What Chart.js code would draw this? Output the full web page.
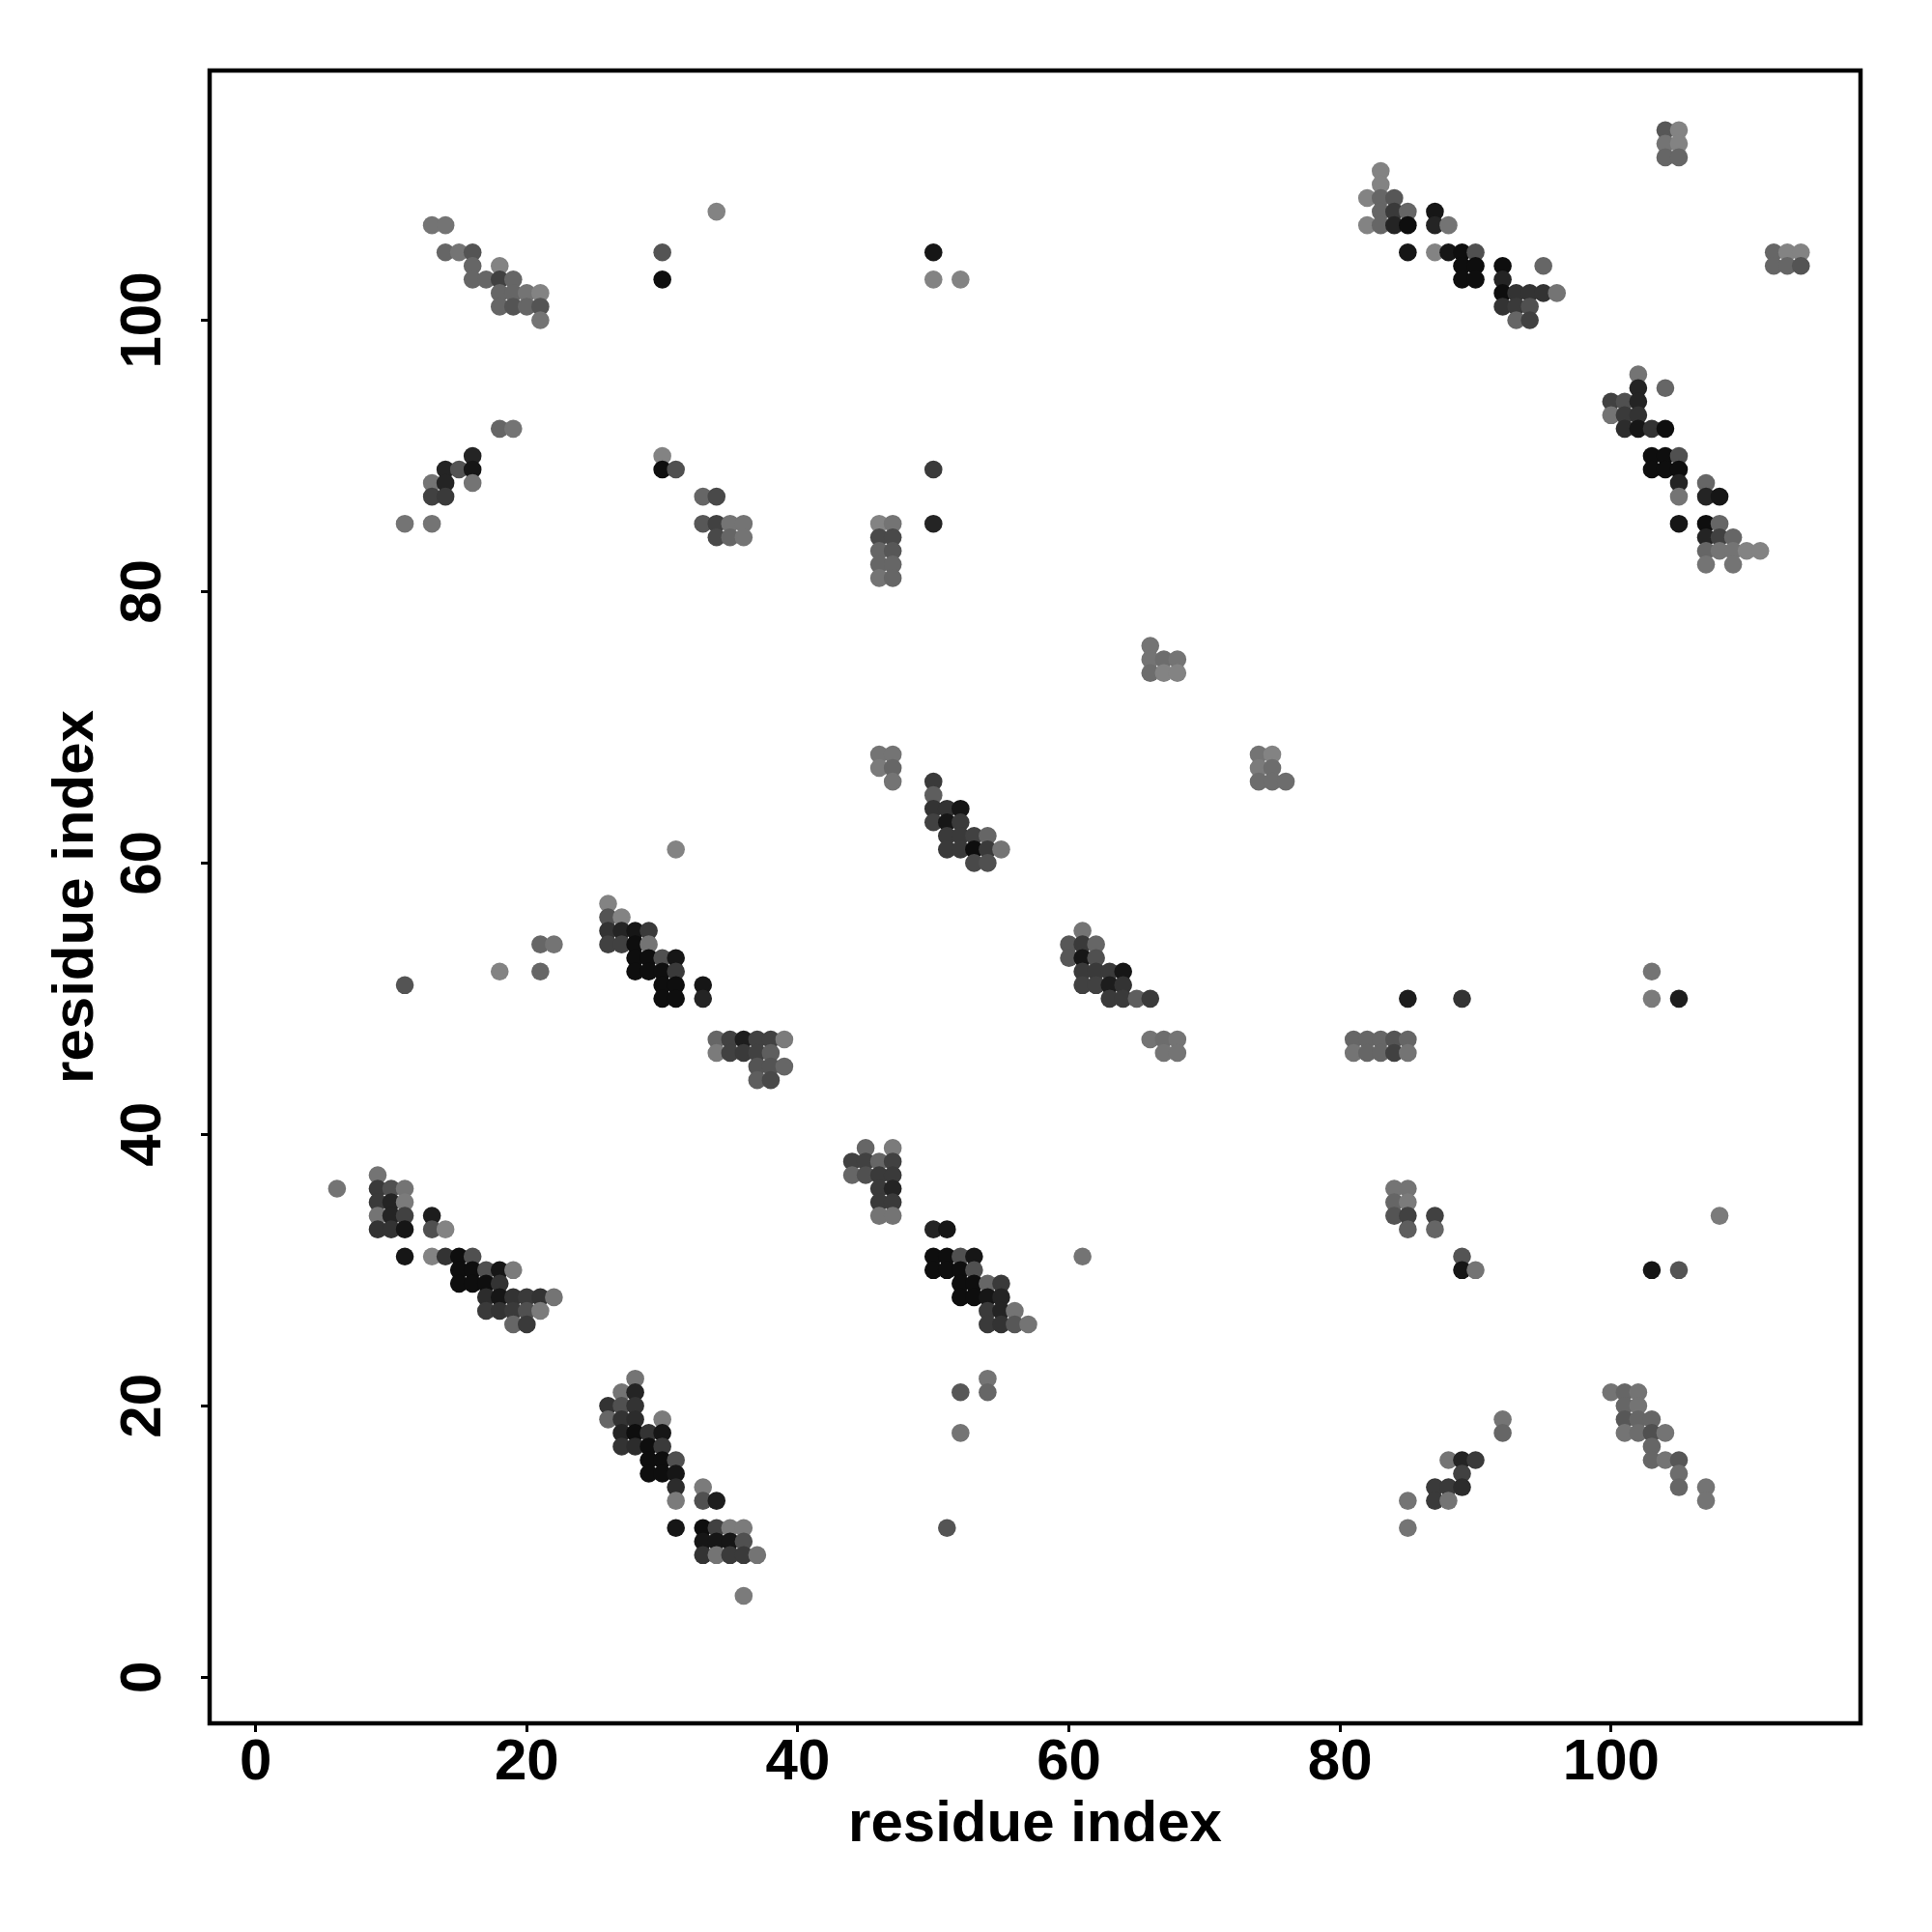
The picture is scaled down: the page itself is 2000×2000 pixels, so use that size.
<!DOCTYPE html>
<html>
<head>
<meta charset="utf-8">
<script src="https://cdn.jsdelivr.net/npm/chart.js@4/dist/chart.umd.min.js"></script>
<style>
  html, body { margin: 0; padding: 0; background: #fff; }
  canvas { display: block; }
</style>
</head>
<body>
<canvas id="contactMap" width="2000" height="2000"></canvas>
<script>
// contacts: [residue i, residue j, probability]
const northWest = [
    [13,107,.2],[14,107,.2],[14,105,.3],[15,105,.2],[16,105,.42],[16,104,.3],[18,104,.1],
    [16,103,.3],[17,103,.3],[18,103,.55],[19,103,.3],[18,102,.3],[19,102,.3],[20,102,.2],
    [21,102,.1],[18,101,.3],[19,101,.42],[20,101,.3],[21,101,.42],[21,100,.2],
    [18,92,.3],[19,92,.2],[16,90,.75],[14,89,.75],[15,89,.42],[16,89,.85],[13,88,.2],
    [14,88,.75],[16,88,.2],[13,87,.55],[14,87,.6],[11,85,.2],[13,85,.2]
];
const northMiddle = [
    [34,108,.1],[30,105,.42],[30,103,.9],[50,105,.85],[50,103,.1],[52,103,.1],
    [30,90,.1],[30,89,.9],[31,89,.45],[50,89,.6],[33,87,.3],[34,87,.5],[33,85,.4],
    [34,85,.55],[35,85,.2],[36,85,.2],[34,84,.5],[35,84,.3],[36,84,.2],[50,85,.75],
    [46,85,.1],[47,85,.2],[46,84,.5],[47,84,.5],[46,83,.3],[47,83,.4],[46,82,.3],
    [47,82,.3],[46,81,.2],[47,81,.3]
];
const northEast = [
    [104,114,.4],[105,114,.1],[104,113,.2],[105,113,.1],[104,112,.3],[105,112,.3],
    [112,105,.3],[113,105,.1],[114,105,.1],[112,104,.3],[113,104,.3],[114,104,.42],
    [83,111,.1],[83,110,.1],[82,109,.1],[83,109,.3],[84,109,.4],[83,108,.3],[84,108,.6],
    [85,108,.3],[87,108,.85],[82,107,.1],[83,107,.3],[84,107,.75],[85,107,.9],[87,107,.75],
    [88,107,.2],[85,105,.85],[87,105,.1],[88,105,.85],[89,105,.9],[90,105,.45],[89,104,.9],
    [90,104,.9],[89,103,.9],[90,103,.9],[92,104,.9],[95,104,.3],[92,103,.75],[92,102,.9],
    [93,102,.65],[94,102,.65],[95,102,.65],[96,102,.2],[92,101,.65],[93,101,.6],[94,101,.45],
    [93,100,.3],[94,100,.55],
    [102,96,.2],[102,95,.75],[104,95,.3],[100,94,.55],[101,94,.45],[102,94,.75],[100,93,.2],
    [101,93,.6],[102,93,.65],[101,92,.7],[102,92,.85],[103,92,.65],[104,92,.9],[103,90,.9],
    [104,90,.9],[105,90,.45],[103,89,.9],[104,89,.9],[105,89,.9],[105,88,.75],[105,87,.2],
    [107,88,.3],[107,87,.75],[108,87,.85],[105,85,.85],[107,85,.9],[108,85,.3],[107,84,.75],
    [108,84,.55],[109,84,.3],[107,83,.3],[108,83,.2],[109,83,.2],[110,83,.1],[111,83,.1],
    [107,82,.2],[109,82,.2]
];
const centre = [
    [66,76,.2],[66,75,.2],[67,75,.25],[68,75,.2],[66,74,.25],[67,74,.1],[68,74,.1],
    [46,68,.2],[47,68,.2],[46,67,.15],[47,67,.3],[47,66,.2],
    [74,68,.2],[75,68,.1],[74,67,.15],[75,67,.25],[74,66,.25],[75,66,.25],[76,66,.25],
    [50,66,.6],[50,65,.35],[50,64,.65],[51,64,.65],[52,64,.85],[50,63,.55],[51,63,.85],
    [52,63,.6],[51,62,.6],[52,62,.6],[53,62,.55],[54,62,.3],[51,61,.6],[52,61,.6],
    [53,61,.9],[54,61,.6],[55,61,.2],[53,60,.5],[54,60,.45],
    [61,55,.2],[60,54,.4],[61,54,.6],[62,54,.3],[60,53,.4],[61,53,.85],[62,53,.45],
    [61,52,.6],[62,52,.6],[63,52,.6],[64,52,.85],[61,51,.55],[62,51,.55],[63,51,.8],
    [64,51,.65],[63,50,.6],[64,50,.6],[65,50,.35],[66,50,.6],
    [66,47,.2],[67,47,.25],[68,47,.2],[67,46,.2],[68,46,.2]
];
const westMiddle = [
    [31,61,.1],[26,57,.1],[26,56,.42],[27,56,.1],[26,55,.65],[27,55,.75],[28,55,.85],
    [29,55,.6],[26,54,.55],[27,54,.55],[28,54,.9],[29,54,.2],[28,53,.9],[29,53,.9],
    [30,53,.45],[31,53,.85],[28,52,.9],[29,52,.9],[30,52,.9],[31,52,.6],[30,51,.9],
    [31,51,.9],[33,51,.85],[30,50,.9],[31,50,.9],[33,50,.75],
    [21,54,.3],[22,54,.2],[18,52,.1],[21,52,.3],[11,51,.42],
    [34,47,.3],[35,47,.55],[36,47,.8],[37,47,.55],[38,47,.55],[39,47,.15],[34,46,.15],
    [35,46,.55],[36,46,.6],[37,46,.55],[38,46,.35],[37,45,.42],[38,45,.42],[39,45,.3],
    [37,44,.35],[38,44,.5]
];
const eastMiddle = [
    [103,52,.2],[103,50,.15],[105,50,.8],[85,50,.8],[89,50,.65],
    [81,47,.3],[82,47,.3],[83,47,.3],[84,47,.42],[85,47,.3],
    [81,46,.2],[82,46,.3],[83,46,.3],[84,46,.55],[85,46,.2]
];
const southWest = [
    [6,36,.2],[9,37,.2],[9,36,.6],[10,36,.45],[11,36,.2],[9,35,.6],[10,35,.75],[11,35,.15],
    [9,34,.2],[10,34,.75],[11,34,.55],[13,34,.8],[9,33,.65],[10,33,.65],[11,33,.85],
    [13,33,.45],[14,33,.1],[11,31,.85],[13,31,.1],[14,31,.65],[15,31,.9],[16,31,.45],
    [15,30,.9],[16,30,.9],[17,30,.45],[18,30,.85],[19,30,.15],[15,29,.9],[16,29,.9],
    [17,29,.9],[18,29,.65],[17,28,.7],[18,28,.85],[19,28,.65],[20,28,.6],[21,28,.65],
    [22,28,.2],[17,27,.6],[18,27,.65],[19,27,.6],[20,27,.45],[21,27,.15],[19,26,.3],[20,26,.6]
];
const southMiddle = [
    [45,39,.3],[47,39,.15],[44,38,.55],[45,38,.55],[46,38,.3],[47,38,.55],[44,37,.3],
    [45,37,.45],[46,37,.6],[47,37,.6],[46,36,.6],[47,36,.75],[46,35,.6],[47,35,.6],
    [46,34,.2],[47,34,.2],[50,33,.75],[51,33,.85],[50,31,.9],[51,31,.9],[52,31,.45],
    [53,31,.85],[50,30,.9],[51,30,.9],[52,30,.9],[53,30,.45],[52,29,.9],[53,29,.9],
    [54,29,.3],[55,29,.6],[52,28,.9],[53,28,.9],[54,28,.85],[55,28,.75],[54,27,.6],
    [55,27,.75],[56,27,.2],[54,26,.6],[55,26,.65],[56,26,.4],[57,26,.2],[61,31,.2],
    [28,22,.2],[27,21,.2],[28,21,.75],[26,20,.65],[27,20,.45],[28,20,.65],[26,19,.3],
    [27,19,.65],[28,19,.7],[30,19,.15],[27,18,.75],[28,18,.9],[29,18,.65],[30,18,.85],
    [27,17,.65],[28,17,.7],[29,17,.9],[30,17,.6],[29,16,.9],[30,16,.9],[31,16,.45],
    [29,15,.9],[30,15,.9],[31,15,.85],[31,14,.7],[31,13,.15],[33,14,.15],[33,13,.45],
    [34,13,.8],[31,11,.85],[33,11,.9],[34,11,.55],[35,11,.15],[36,11,.15],[33,10,.85],
    [34,10,.85],[35,10,.85],[36,10,.45],[33,9,.65],[34,9,.2],[35,9,.6],[36,9,.6],
    [37,9,.2],[36,6,.15],[52,21,.4],[54,22,.2],[54,21,.3],[52,18,.2],[51,11,.42]
];
const southEast = [
    [84,36,.2],[85,36,.2],[84,35,.3],[85,35,.15],[84,34,.42],[85,34,.55],[87,34,.55],
    [85,33,.35],[87,33,.3],[89,31,.42],[89,30,.85],[90,30,.2],[103,30,.85],[105,30,.42],
    [108,34,.15],[92,19,.2],[92,18,.3],[88,16,.2],[89,16,.75],[90,16,.6],[89,15,.55],
    [87,14,.6],[88,14,.6],[89,14,.7],[85,13,.2],[87,13,.6],[88,13,.2],[85,11,.2],
    [100,21,.2],[101,21,.3],[102,21,.2],[101,20,.3],[102,20,.2],[101,19,.4],[102,19,.3],
    [103,19,.3],[101,18,.2],[102,18,.25],[103,18,.45],[104,18,.2],[103,17,.3],[103,16,.3],
    [104,16,.2],[105,16,.4],[105,15,.25],[105,14,.3],[107,14,.2],[107,13,.2]
];

const tickValues = [0, 20, 40, 60, 80, 100];
const axisTitle = 'residue index';

// darker grey = more probable contact
function grayFor(p) {
    const g = Math.round(145 * (1 - p));
    return `rgb(${g},${g},${g})`;
}

const points = [].concat(northWest, northMiddle, northEast, centre, westMiddle,
        eastMiddle, southWest, southMiddle, southEast)
    .map(c => ({ x: c[0], y: c[1], p: c[2] }));

const tickFont = { family: 'Liberation Sans', size: 60, weight: 'bold', lineHeight: 1 };
const titleFont = { family: 'Liberation Sans', size: 60, weight: 'bold', lineHeight: 1.2 };

// R-style box around the plot region
const boxPlugin = {
    id: 'box',
    afterDraw(chart) {
        const { ctx, chartArea: a } = chart;
        ctx.save();
        ctx.strokeStyle = '#000';
        ctx.lineWidth = 4.5;
        ctx.strokeRect(a.left, a.top, a.right - a.left, a.bottom - a.top);
        ctx.restore();
    }
};

const tickGrid = {
    display: true, drawOnChartArea: false, drawTicks: true,
    tickLength: 9, tickWidth: 3, tickColor: '#000'
};

new Chart(document.getElementById('contactMap'), {
    type: 'scatter',
    data: {
        datasets: [{
            data: points,
            pointRadius: 9.3,
            pointHoverRadius: 9.3,
            borderWidth: 0,
            backgroundColor: ctx => grayFor(ctx.raw ? ctx.raw.p : 0)
        }]
    },
    options: {
        responsive: false,
        animation: false,
        devicePixelRatio: 1,
        layout: { padding: { top: 73, right: 74, left: 0, bottom: 0 } },
        plugins: { legend: { display: false }, tooltip: { enabled: false } },
        scales: {
            x: {
                type: 'linear', min: -3.4, max: 118.4,
                afterBuildTicks: s => { s.ticks = tickValues.map(v => ({ value: v })); },
                afterFit: s => { s.height = 216; },
                ticks: { font: tickFont, color: '#000', padding: 2, maxRotation: 0, autoSkip: false },
                grid: tickGrid,
                border: { display: false },
                title: { display: true, text: axisTitle, font: titleFont, color: '#000', padding: { top: 0, bottom: 75 } }
            },
            y: {
                type: 'linear', min: -3.4, max: 118.4,
                afterBuildTicks: s => { s.ticks = tickValues.map(v => ({ value: v })); },
                afterFit: s => { s.width = 217; },
                ticks: { font: tickFont, color: '#000', padding: 8, minRotation: 90, maxRotation: 90, crossAlign: 'center', autoSkip: false },
                grid: tickGrid,
                border: { display: false },
                title: { display: true, text: axisTitle, font: titleFont, color: '#000', padding: { top: 43, bottom: 0 } }
            }
        }
    },
    plugins: [boxPlugin]
});
</script>
</body>
</html>
